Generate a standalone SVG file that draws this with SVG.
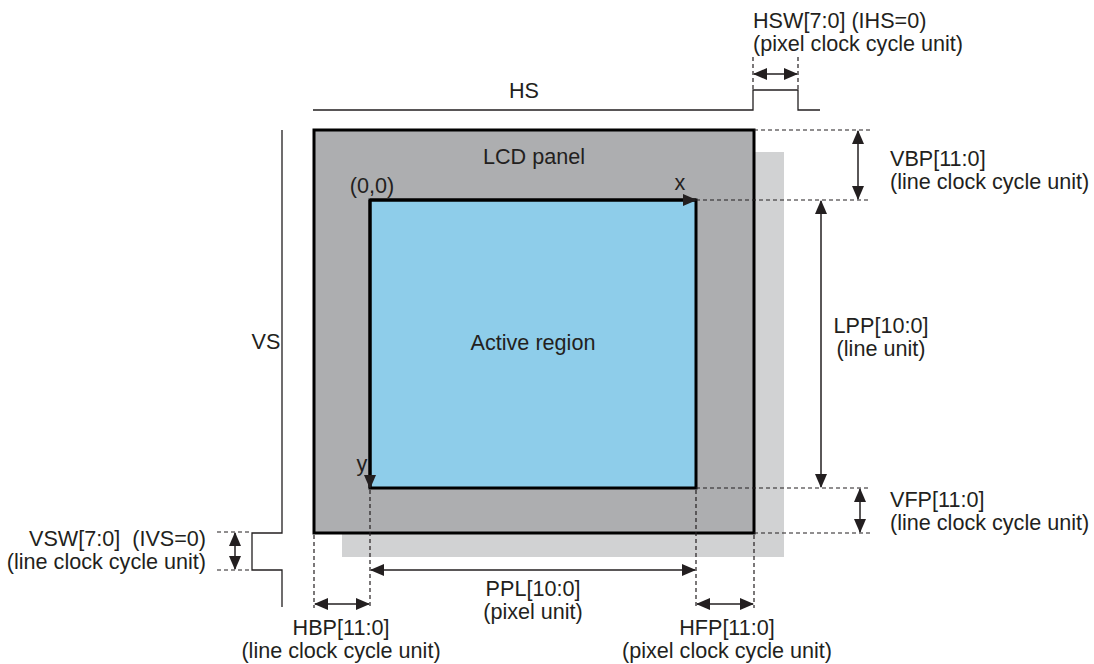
<svg xmlns="http://www.w3.org/2000/svg" width="1094" height="664" viewBox="0 0 1094 664">
<style>
text{font-family:"Liberation Sans",Arial,sans-serif;font-size:21.6px;fill:#231f20}
.m{text-anchor:middle}
.e{text-anchor:end}
.ln{stroke:#231f20;stroke-width:1.3;fill:none}
.d{stroke:#231f20;stroke-width:1.2;stroke-dasharray:4 3;fill:none}
.ar{stroke:#231f20;stroke-width:1.5;fill:none;marker-start:url(#ah);marker-end:url(#ah)}
</style>
<defs>
<marker id="ah" markerUnits="userSpaceOnUse" markerWidth="14" markerHeight="12" viewBox="0 0 14 12" refX="13" refY="6" orient="auto-start-reverse">
<path d="M0,0 L14,6 L0,12 Z" fill="#231f20"/>
</marker>
<marker id="ah1" markerUnits="userSpaceOnUse" markerWidth="14" markerHeight="12" viewBox="0 0 14 12" refX="13" refY="6" orient="auto">
<path d="M0,0 L14,6 L0,12 Z" fill="#231f20"/>
</marker>
</defs>
<g id="shadow"><rect x="342" y="152" width="442" height="405" fill="#d1d2d3"/></g>
<g id="lcd-panel">
<rect x="314" y="130" width="440" height="403" fill="#adaeb0" stroke="#000" stroke-width="3"/>
<text class="m" x="534" y="164">LCD panel</text>
</g>
<g id="active-region">
<rect x="370" y="200" width="326" height="288" fill="#8ecdea" stroke="#000" stroke-width="3"/>
<text class="m" x="533" y="350">Active region</text>
<text class="m" x="372" y="193">(0,0)</text>
<text class="m" x="680" y="190">x</text>
<text class="m" x="362" y="471">y</text>
</g>
<g id="hs-signal">
<path class="ln" d="M313,110 H753 V90 H798 V110 H820"/>
<text class="m" x="524" y="98">HS</text>
</g>
<g id="vs-signal">
<path class="ln" d="M282,130 V533 H252 V570 H282 V607"/>
<text class="m" x="266" y="349">VS</text>
</g>
<g id="connectors">
<line x1="370" y1="200" x2="696" y2="200" stroke="#000" stroke-width="3" marker-end="url(#ah1)"/>
<line x1="370" y1="200" x2="370" y2="488" stroke="#000" stroke-width="3" marker-end="url(#ah1)"/>
<path class="d" d="M753,57 V90 M798,57 V90"/>
<line class="ar" x1="754" y1="74" x2="797" y2="74"/>
<path class="d" d="M754,130 H870 M696,200 H870 M696,488 H870 M754,533 H870"/>
<line class="ar" x1="858" y1="131" x2="858" y2="199"/>
<line class="ar" x1="821" y1="201" x2="821" y2="487"/>
<line class="ar" x1="860" y1="489" x2="860" y2="532"/>
<path class="d" d="M217,532 H252 M217,570 H252"/>
<line class="ar" x1="235" y1="533" x2="235" y2="569"/>
<path class="d" d="M314,535 V608 M370,490 V608 M696,490 V608 M754,535 V608"/>
<line class="ar" x1="371" y1="570" x2="695" y2="570"/>
<line class="ar" x1="315" y1="604" x2="369" y2="604"/>
<line class="ar" x1="697" y1="604" x2="753" y2="604"/>
</g>
<g id="labels">
<text x="753" y="28">HSW[7:0] (IHS=0)</text>
<text x="753" y="51">(pixel clock cycle unit)</text>
<text x="890" y="166">VBP[11:0]</text>
<text x="890" y="189">(line clock cycle unit)</text>
<text class="m" x="881" y="333">LPP[10:0]</text>
<text class="m" x="881" y="356">(line unit)</text>
<text x="890" y="507">VFP[11:0]</text>
<text x="890" y="530">(line clock cycle unit)</text>
<text class="e" x="206" y="546" xml:space="preserve">VSW[7:0]  (IVS=0)</text>
<text class="e" x="206" y="569">(line clock cycle unit)</text>
<text class="m" x="533" y="596">PPL[10:0]</text>
<text class="m" x="533" y="619">(pixel unit)</text>
<text class="m" x="341" y="635">HBP[11:0]</text>
<text class="m" x="341" y="658">(line clock cycle unit)</text>
<text class="m" x="727" y="635">HFP[11:0]</text>
<text class="m" x="727" y="658">(pixel clock cycle unit)</text>
</g>
</svg>
